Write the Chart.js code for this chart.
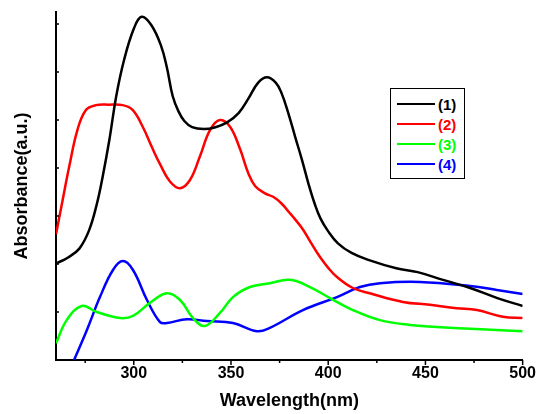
<!DOCTYPE html>
<html>
<head>
<meta charset="utf-8">
<script src="https://cdn.jsdelivr.net/npm/chart.js@4"></script>
<style>
  body { margin: 0; background: #fff; }
  #wrap { position: relative; width: 540px; height: 414px; }
  #legend {
    position: absolute; left: 390px; top: 88px; width: 73px; height: 89px;
    border: 1px solid #000; background: #fff;
    font: bold 15px "Liberation Sans", Arial, sans-serif;
  }
  .row { position: absolute; left: 6px; height: 18px; display: flex; align-items: center; }
  .row span.ln { display: inline-block; width: 38px; height: 2.5px; margin-right: 3px; }
</style>
</head>
<body>
<div id="wrap">
  <canvas id="myChart" width="540" height="414"></canvas>
  <div id="legend"></div>
</div>
<script>
const seriesNames = ['(1)', '(2)', '(3)', '(4)'];
const seriesColors = ['#000000', '#ff0000', '#00ff00', '#0000ff'];

// wavelength (nm) / absorbance (a.u.)
const wl1 = [260, 266, 272, 277, 281, 284, 287.5, 291, 295, 300, 304, 309, 314, 317, 320, 323, 326, 330, 336, 342, 348, 354, 359, 364, 368.5, 373, 376, 379.5, 383, 386.5, 390, 393, 396, 400, 405, 412, 421, 435, 446, 459, 473, 487, 500];
const abs1 = [2.01, 2.13, 2.32, 2.70, 3.25, 3.82, 4.6, 5.5, 6.25, 6.9, 7.15, 6.98, 6.55, 6.1, 5.5, 5.18, 4.98, 4.85, 4.81, 4.85, 4.95, 5.15, 5.45, 5.78, 5.89, 5.78, 5.56, 5.14, 4.65, 4.17, 3.65, 3.26, 2.95, 2.68, 2.43, 2.23, 2.08, 1.91, 1.83, 1.67, 1.5, 1.29, 1.125];

const wl2 = [260, 263.4, 266.8, 271, 275.4, 280.6, 287, 294.3, 299.4, 304.6, 309.7, 313.5, 318.6, 323.8, 328.9, 334, 339.2, 344.3, 349.5, 354.6, 359, 362.5, 367.5, 371.7, 376, 379.4, 383, 387, 391, 395.7, 400, 404.5, 412.7, 421.4, 438.4, 452.3, 466, 476.5, 489.8, 500];
const abs2 = [2.62, 3.33, 4.03, 4.79, 5.21, 5.31, 5.32, 5.31, 5.21, 4.86, 4.40, 4.08, 3.72, 3.58, 3.75, 4.24, 4.79, 5.0, 4.86, 4.4, 3.88, 3.62, 3.47, 3.40, 3.26, 3.10, 2.93, 2.72, 2.45, 2.15, 1.92, 1.73, 1.5, 1.39, 1.21, 1.15, 1.08, 1.04, 0.9, 0.875];

const wl3 = [260, 265.5, 273.2, 281, 293, 299.6, 308.3, 317, 323.8, 330.4, 336.6, 344.3, 351, 359.7, 370, 380.3, 390.6, 400.9, 412.7, 426.6, 442, 455.9, 473, 500];
const abs3 = [0.35, 0.83, 1.125, 1.0, 0.875, 0.92, 1.19, 1.39, 1.25, 0.875, 0.71, 0.98, 1.31, 1.52, 1.6, 1.67, 1.52, 1.29, 1.04, 0.83, 0.73, 0.69, 0.65, 0.6];

const wl4 = [269.3, 275.9, 282.6, 289.3, 294.4, 299.6, 306.8, 313.5, 317, 327.3, 337.6, 351, 363.3, 370, 387, 404.5, 416.3, 426.6, 447.2, 473, 486.7, 500];
const abs4 = [0, 0.625, 1.31, 1.875, 2.06, 1.875, 1.25, 0.79, 0.77, 0.85, 0.81, 0.77, 0.6, 0.67, 1.04, 1.31, 1.52, 1.6, 1.625, 1.54, 1.46, 1.375];

const xTicksMajor = [300, 350, 400, 450, 500];

const allWl = [wl1, wl2, wl3, wl4];
const allAbs = [abs1, abs2, abs3, abs4];

const fontFam = '"Liberation Sans", Arial, sans-serif';

// small tick marks: x outward (major longer), y inward
const tickMarks = {
  id: 'tickMarks',
  afterDraw(chart) {
    const c = chart.ctx;
    const xs = chart.scales.x, ys = chart.scales.y;
    c.save();
    c.strokeStyle = '#000';
    c.lineWidth = 1.5;
    xs.ticks.forEach(t => {
      const px = xs.getPixelForValue(t.value);
      const len = xTicksMajor.includes(t.value) ? 5 : 3;
      c.beginPath();
      c.moveTo(px, xs.top);
      c.lineTo(px, xs.top + len);
      c.stroke();
    });
    ys.ticks.forEach(t => {
      if (t.value === 0) return;
      const py = ys.getPixelForValue(t.value);
      c.beginPath();
      c.moveTo(ys.right, py);
      c.lineTo(ys.right + 3, py);
      c.stroke();
    });
    c.restore();
  }
};

const ctx = document.getElementById('myChart');

new Chart(ctx, {
  type: 'line',
  data: {
    datasets: seriesNames.map((name, i) => ({
      label: name,
      data: allWl[i].map((w, j) => ({ x: w, y: allAbs[i][j] })),
      borderColor: seriesColors[i],
      borderWidth: 2.5,
      pointRadius: 0,
      fill: false,
      tension: 0.4
    }))
  },
  options: {
    responsive: false,
    animation: false,
    layout: { padding: { top: 12, right: 17, left: 0, bottom: 0 } },
    plugins: {
      legend: { display: false },
      tooltip: { enabled: false }
    },
    scales: {
      x: {
        type: 'linear',
        min: 260,
        max: 500,
        afterFit: s => { s.height = 54; },
        ticks: {
          stepSize: 25,
          includeBounds: false,
          autoSkip: false,
          maxRotation: 0,
          padding: 4,
          color: '#000',
          font: { family: fontFam, size: 16, weight: 'bold' },
          callback: v => xTicksMajor.includes(v) ? String(v) : ''
        },
        grid: { drawOnChartArea: false, drawTicks: false },
        border: { display: true, color: '#000', width: 2 },
        title: {
          display: true,
          text: 'Wavelength(nm)',
          color: '#000',
          font: { family: fontFam, size: 18, weight: 'bold' },
          padding: { top: 0, bottom: 2 }
        }
      },
      y: {
        min: 0,
        max: 7.25,
        afterFit: s => { s.width = 56; },
        ticks: { stepSize: 1, includeBounds: false, display: false },
        grid: { drawOnChartArea: false, drawTicks: false },
        border: { display: true, color: '#000', width: 2 },
        title: {
          display: true,
          text: 'Absorbance(a.u.)',
          color: '#000',
          font: { family: fontFam, size: 18, weight: 'bold' },
          padding: { top: 11, bottom: 0 }
        }
      }
    }
  },
  plugins: [tickMarks]
});

// legend box drawn as html text, from the same names/colours
const legendEl = document.getElementById('legend');
seriesNames.forEach((name, i) => {
  const row = document.createElement('div');
  row.className = 'row';
  row.style.top = (6 + i * 20) + 'px';
  row.innerHTML = '<span class="ln" style="background:' + seriesColors[i] + '"></span>' +
    '<span style="color:' + seriesColors[i] + '">' + name + '</span>';
  legendEl.appendChild(row);
});
</script>
</body>
</html>
